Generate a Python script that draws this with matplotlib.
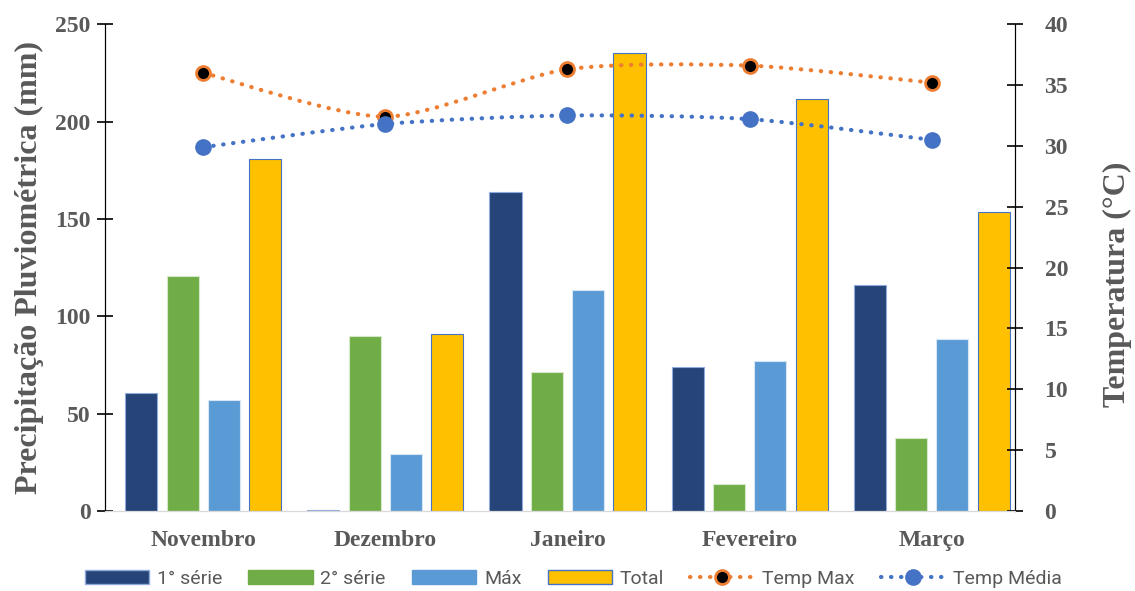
import numpy as np
import matplotlib
matplotlib.use('Agg')
import matplotlib.pyplot as plt
from matplotlib.path import Path
from matplotlib.patches import PathPatch, Patch
from matplotlib.lines import Line2D

meses = ["Novembro", "Dezembro", "Janeiro", "Fevereiro", "Março"]
serie1 = [60.5, 0.5, 164.0, 74.0, 116.3]
serie2 = [120.7, 89.9, 71.4, 13.6, 37.7]
maximo = [56.8, 29.3, 113.5, 77.2, 88.4]
total = [181.0, 90.7, 235.1, 211.8, 153.8]
temp_max = [36.0, 32.4, 36.3, 36.6, 35.2]
temp_media = [29.9, 31.8, 32.5, 32.2, 30.5]

cinza = "#595959"
serif = "Liberation Serif"


def smooth_path(x, y, k=8):
    # bezier through the points, a softened catmull-rom like Excel's smoothed line
    pts = np.column_stack([x, y]).astype(float)
    p = np.vstack([pts[0], pts, pts[-1]])
    verts = [pts[0]]
    codes = [Path.MOVETO]
    for i in range(1, len(p) - 2):
        c1 = p[i] + (p[i + 1] - p[i - 1]) / k
        c2 = p[i + 1] - (p[i + 2] - p[i]) / k
        verts += [c1, c2, p[i + 1]]
        codes += [Path.CURVE4] * 3
    return Path(verts, codes)


fig = plt.figure(figsize=(11.35, 5.91), dpi=100)
ax = fig.add_axes([0.0925, 0.1354, 0.8015, 0.8236])
ax2 = ax.twinx()

x = np.arange(len(meses))
w = 0.176
step = 0.227
ax.bar(x - 1.5 * step, serie1, w, color="#264478", edgecolor="#8faadc", lw=0.8)
ax.bar(x - 0.5 * step, serie2, w, color="#70AD47", edgecolor="#d5e8c8", lw=0.8)
ax.bar(x + 0.5 * step, maximo, w, color="#5B9BD5", edgecolor="#d6e6f5", lw=0.8)
ax.bar(x + 1.5 * step, total, w, color="#FFC000", edgecolor="#4472C4", lw=0.8)

dots = (0, (0.1, 2.3))
ax2.add_patch(PathPatch(smooth_path(x, temp_max), fill=False, edgecolor="#ED7D31",
                        lw=3, linestyle=dots, capstyle="round", zorder=3))
ax2.add_patch(PathPatch(smooth_path(x, temp_media), fill=False, edgecolor="#4472C4",
                        lw=3, linestyle=dots, capstyle="round", zorder=3))
ax2.plot(x, temp_max, ls="none", marker="o", ms=10, mfc="black", mec="#ED7D31", mew=2, zorder=4)
ax2.plot(x, temp_media, ls="none", marker="o", ms=11, mfc="#4472C4", mec="#4472C4", zorder=4)

ax.set_xlim(-0.54, 4.456)
ax.set_ylim(0, 250)
ax2.set_ylim(0, 40)
ax.set_yticks(np.arange(0, 251, 50))
ax2.set_yticks(np.arange(0, 41, 5))
ax.set_xticks(x)
ax.set_xticklabels(meses)

for a in (ax, ax2):
    a.spines["top"].set_visible(False)
    a.spines["bottom"].set_color("#d9d9d9")
    a.spines["left"].set_color("black")
    a.spines["right"].set_color("black")
    for lab in a.get_yticklabels() + a.get_xticklabels():
        lab.set_fontfamily(serif)
        lab.set_fontweight("bold")
        lab.set_fontsize(17)
        lab.set_color(cinza)

ax.tick_params(axis="x", length=0, pad=14)
ax.tick_params(axis="y", direction="inout", length=11, width=1.2, pad=5)
ax2.tick_params(axis="y", direction="inout", length=11, width=1.2, pad=16)

ax.set_ylabel("Precipitação Pluviométrica (mm)", fontfamily=serif, fontweight="bold",
              fontsize=23, color=cinza, labelpad=8)
ax2.set_ylabel("Temperatura (°C)", fontfamily=serif, fontweight="bold",
               fontsize=23, color=cinza)
ax2.yaxis.set_label_coords(1.097, 0.466)

handles = [
    Patch(facecolor="#264478", edgecolor="#8faadc", label="1° série"),
    Patch(facecolor="#70AD47", edgecolor="#70AD47", label="2° série"),
    Patch(facecolor="#5B9BD5", edgecolor="#5B9BD5", label="Máx"),
    Patch(facecolor="#FFC000", edgecolor="#4472C4", label="Total"),
    Line2D([], [], color="#ED7D31", lw=3, ls=dots, dash_capstyle="round",
           marker="o", ms=10, mfc="black", mec="#ED7D31", mew=2, label="Temp Max"),
    Line2D([], [], color="#4472C4", lw=3, ls=dots, dash_capstyle="round",
           marker="o", ms=11, mfc="#4472C4", mec="#4472C4", label="Temp Média"),
]
fig.legend(handles=handles, loc="center", bbox_to_anchor=(0.505, 0.021), ncol=6,
           frameon=False, handlelength=3.3, handleheight=0.75, columnspacing=1.35,
           handletextpad=0.4, prop={"family": "Roboto", "size": 14},
           labelcolor=cinza)

fig.savefig("out.png", dpi=100)
